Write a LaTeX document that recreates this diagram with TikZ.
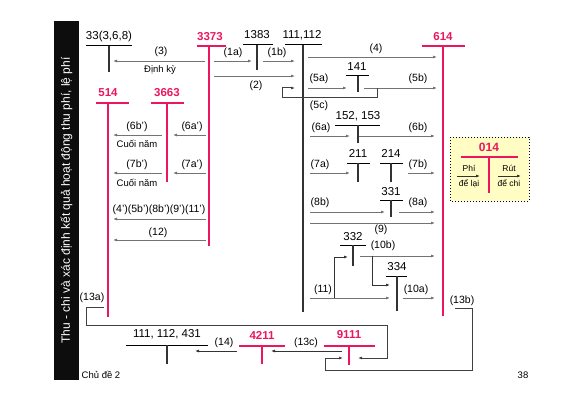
\documentclass[tikz,border=0pt]{standalone}
\usepackage{fontspec}
\setmainfont{Liberation Sans}
\usetikzlibrary{arrows.meta}
\definecolor{accred}{RGB}{236,22,96}
\definecolor{arrgray}{RGB}{115,115,115}
\definecolor{boxfill}{RGB}{255,252,196}

\begin{document}
\begin{tikzpicture}[
		x=1pt, y=-1pt,
		acc/.style={font=\fontsize{11.5}{13}\selectfont, inner sep=0pt},
		racc/.style={inner sep=0pt, text=accred, font=\fontsize{11.5}{13}\selectfont\bfseries},
		lbl/.style={font=\fontsize{10.5}{12}\selectfont, inner sep=0pt},
		note/.style={font=\fontsize{9.5}{11}\selectfont, inner sep=0pt},
		tiny/.style={font=\fontsize{8.5}{10}\selectfont, inner sep=0pt},
		tbar/.style={line width=1pt},
		tstem/.style={line width=1.1pt, draw=black!80},
		rbar/.style={line width=1.05pt, draw=accred},
		arrow/.style={-{Latex[length=4pt,width=3pt]}, draw=arrgray, line width=0.9pt},
		loopline/.style={draw=black!75, line width=1pt}
	]
		\useasboundingbox (0,0) rectangle (572,401);
		
		% side bar
		\fill[black!95] (54,21) rectangle (79,380);
		\node[rotate=90, text=white, font=\fontsize{12}{14}\selectfont] (side) at (66.5,200.5) {Thu - chi và xác định kết quả hoạt động thu phí, lệ phí};
		\node[font=\fontsize{9.5}{11}\selectfont] (chude) at (101,375) {Chủ đề 2};
		\node[font=\fontsize{9.5}{11}\selectfont] (page) at (523,375) {38};
		
		% T accounts
		\node[acc] (t33) at (109,37) {33(3,6,8)};
		\draw[tbar] (86,46) -- (132,46);
		\draw[tstem] (109,46) -- (109,72);
		
		\node[racc] (t3373) at (210,37) {3373};
		\draw[rbar] (197,46) -- (226,46);
		\draw[rbar] (209,46) -- (209,246);
		
		\node[acc] (t1383) at (257,35) {1383};
		\draw[tbar] (243,45) -- (273,45);
		\draw[tstem] (257,45) -- (257,70);
		
		\node[acc] (t111) at (302,35) {111,112};
		\draw[tbar] (285,45) -- (322,45);
		\draw[tstem] (303,45) -- (303,312);
		
		\node[racc] (t614) at (443,37) {614};
		\draw[rbar] (422,46) -- (465,46);
		\draw[rbar] (443,46) -- (443,316);
		
		\node[acc] (t141) at (357,67) {141};
		\draw[tbar] (346,76) -- (369,76);
		\draw[tstem] (358,76) -- (358,92);
		
		\node[acc] (t152) at (358,116) {152, 153};
		\draw[tbar] (335,125) -- (380,125);
		\draw[tstem] (358,125) -- (358,143);
		
		\node[acc] (t211) at (358,153) {211};
		\draw[tbar] (347,163) -- (370,163);
		\draw[tstem] (358,163) -- (358,182);
		
		\node[acc] (t214) at (391,153) {214};
		\draw[tbar] (380,163) -- (403,163);
		\draw[tstem] (391,163) -- (391,182);
		
		\node[acc] (t331) at (391,192) {331};
		\draw[tbar] (380,200) -- (403,200);
		\draw[tstem] (391,200) -- (391,217);
		
		\node[acc] (t332) at (353,237) {332};
		\draw[tbar] (340,245) -- (366,245);
		\draw[tstem] (353,245) -- (353,266);
		
		\node[acc] (t334) at (397,267) {334};
		\draw[tbar] (386,276) -- (407,276);
		\draw[tstem] (397,276) -- (397,311);
		
		\node[racc] (t514) at (108,93) {514};
		\draw[rbar] (96,103) -- (129,103);
		\draw[rbar] (108,103) -- (108,317);
		
		\node[racc] (t3663) at (167,93) {3663};
		\draw[rbar] (151,103) -- (184,103);
		\draw[rbar] (167,103) -- (167,182);
		
		\node[acc] (t431) at (167,334) {111, 112, 431};
		\draw[tbar] (126,345) -- (208,345);
		\draw[tstem] (167,345) -- (167,364);
		
		\node[racc] (t4211) at (262,335) {4211};
		\draw[rbar] (239,346) -- (285,346);
		\draw[rbar] (262,346) -- (262,364);
		
		\node[racc] (t9111) at (349,335) {9111};
		\draw[rbar] (324,346) -- (375,346);
		\draw[rbar] (349,346) -- (349,365);
		
		% entries
		\draw[arrow] (205,61) -- (113,61);
		\node[lbl] (l3) at (161,52) {(3)};
		\node[note] (dk) at (160,70) {Định kỳ};
		\draw[arrow] (214,61) -- (252,61);
		\node[lbl] (l1a) at (233,53) {(1a)};
		\draw[arrow] (263,61) -- (295,61);
		\node[lbl] (l1b) at (277,53) {(1b)};
		\draw[arrow] (214,76) -- (295,76);
		\node[lbl] (l2) at (256,86) {(2)};
		\draw[arrow] (308,57) -- (437,57);
		\node[lbl] (l4) at (376,49) {(4)};
		\draw[arrow] (308,88) -- (347,88);
		\node[lbl] (l5a) at (319,79) {(5a)};
		\draw[arrow] (364,88) -- (437,88);
		\node[lbl] (l5b) at (418,79) {(5b)};
		\draw[loopline, -{Latex[length=4pt,width=3pt]}] (377,88) -- (377,98) -- (282,98) -- (282,88) -- (295,88);
		\node[lbl] (l5c) at (319,106) {(5c)};
		\draw[arrow] (310,136) -- (350,136);
		\node[lbl] (l6a) at (321,128) {(6a)};
		\draw[arrow] (359,136) -- (435,136);
		\node[lbl] (l6b) at (418,128) {(6b)};
		\draw[arrow] (310,173) -- (350,173);
		\node[lbl] (l7a) at (320,165) {(7a)};
		\draw[arrow] (408,173) -- (435,173);
		\node[lbl] (l7b) at (418,165) {(7b)};
		\draw[arrow] (310,212) -- (385,212);
		\node[lbl] (l8b) at (320,203) {(8b)};
		\draw[arrow] (399,212) -- (435,212);
		\node[lbl] (l8a) at (418,203) {(8a)};
		\draw[arrow] (310,223) -- (435,223);
		\node[lbl] (l9) at (381,230) {(9)};
		\draw[arrow] (360,256) -- (435,256);
		\node[lbl] (l10b) at (383,246) {(10b)};
		\draw[arrow, draw=black!80] (372,256) -- (372,285) -- (390,285);
		\draw[arrow] (403,298) -- (435,298);
		\node[lbl] (l10a) at (416,290) {(10a)};
		\draw[arrow] (310,298) -- (390,298);
		\node[lbl] (l11) at (323,290) {(11)};
		\draw[arrow, draw=black!80] (334,298) -- (334,257) -- (348,257);
		
		\draw[arrow] (162,135) -- (113,135);
		\node[lbl] (l6b') at (137,127) {(6b')};
		\node[note] (cn1) at (137,144) {Cuối năm};
		\draw[arrow] (206,135) -- (173,135);
		\node[lbl] (l6a') at (192,127) {(6a')};
		\draw[arrow] (162,173) -- (113,173);
		\node[lbl] (l7b') at (137,165) {(7b')};
		\node[note] (cn2) at (137,183) {Cuối năm};
		\draw[arrow] (206,173) -- (173,173);
		\node[lbl] (l7a') at (192,165) {(7a')};
		\draw[arrow] (206,219) -- (113,219);
		\node[lbl] (lsum) at (159,210) {(4')(5b')(8b')(9')(11')};
		\draw[arrow] (206,240) -- (113,240);
		\node[lbl] (l12) at (158,233) {(12)};
		
		% closing entries
		\node[lbl] (l13a) at (92,298) {(13a)};
		\draw[loopline, -{Latex[length=4pt,width=3pt]}] (104,307) -- (86,307) -- (86,325) -- (387,325) -- (387,358) -- (358,358);
		\node[lbl] (l13b) at (462,301) {(13b)};
		\draw[loopline, -{Latex[length=4pt,width=3pt]}] (455,308) -- (472,308) -- (472,370) -- (325,370) -- (325,358) -- (343,358);
		\draw[arrow, draw=black!80] (342,351) -- (271,351);
		\node[lbl] (l13c) at (306,343) {(13c)};
		\draw[arrow, draw=black!80] (237,351) -- (195,351);
		\node[lbl] (l14) at (224,343) {(14)};
		
		% account 014
		\draw[dotted, line width=1pt, fill=boxfill] (450,137) rectangle (529,201);
		\node[racc, font=\fontsize{12}{14}\selectfont\bfseries] (t014) at (489,147) {014};
		\draw[rbar] (461,157) -- (518,157);
		\draw[rbar] (489,157) -- (489,193);
		\node[tiny] (phi) at (469,168) {Phí};
		\draw[arrow, draw=black!80] (457,176) -- (480,176);
		\node[tiny] (dl) at (469,183.5) {để lại};
		\node[tiny] (rut) at (509,168) {Rút};
		\draw[arrow, draw=black!80] (498,176) -- (521,176);
		\node[tiny] (dc) at (509,183.5) {để chi};
	\end{tikzpicture}
\end{document}
